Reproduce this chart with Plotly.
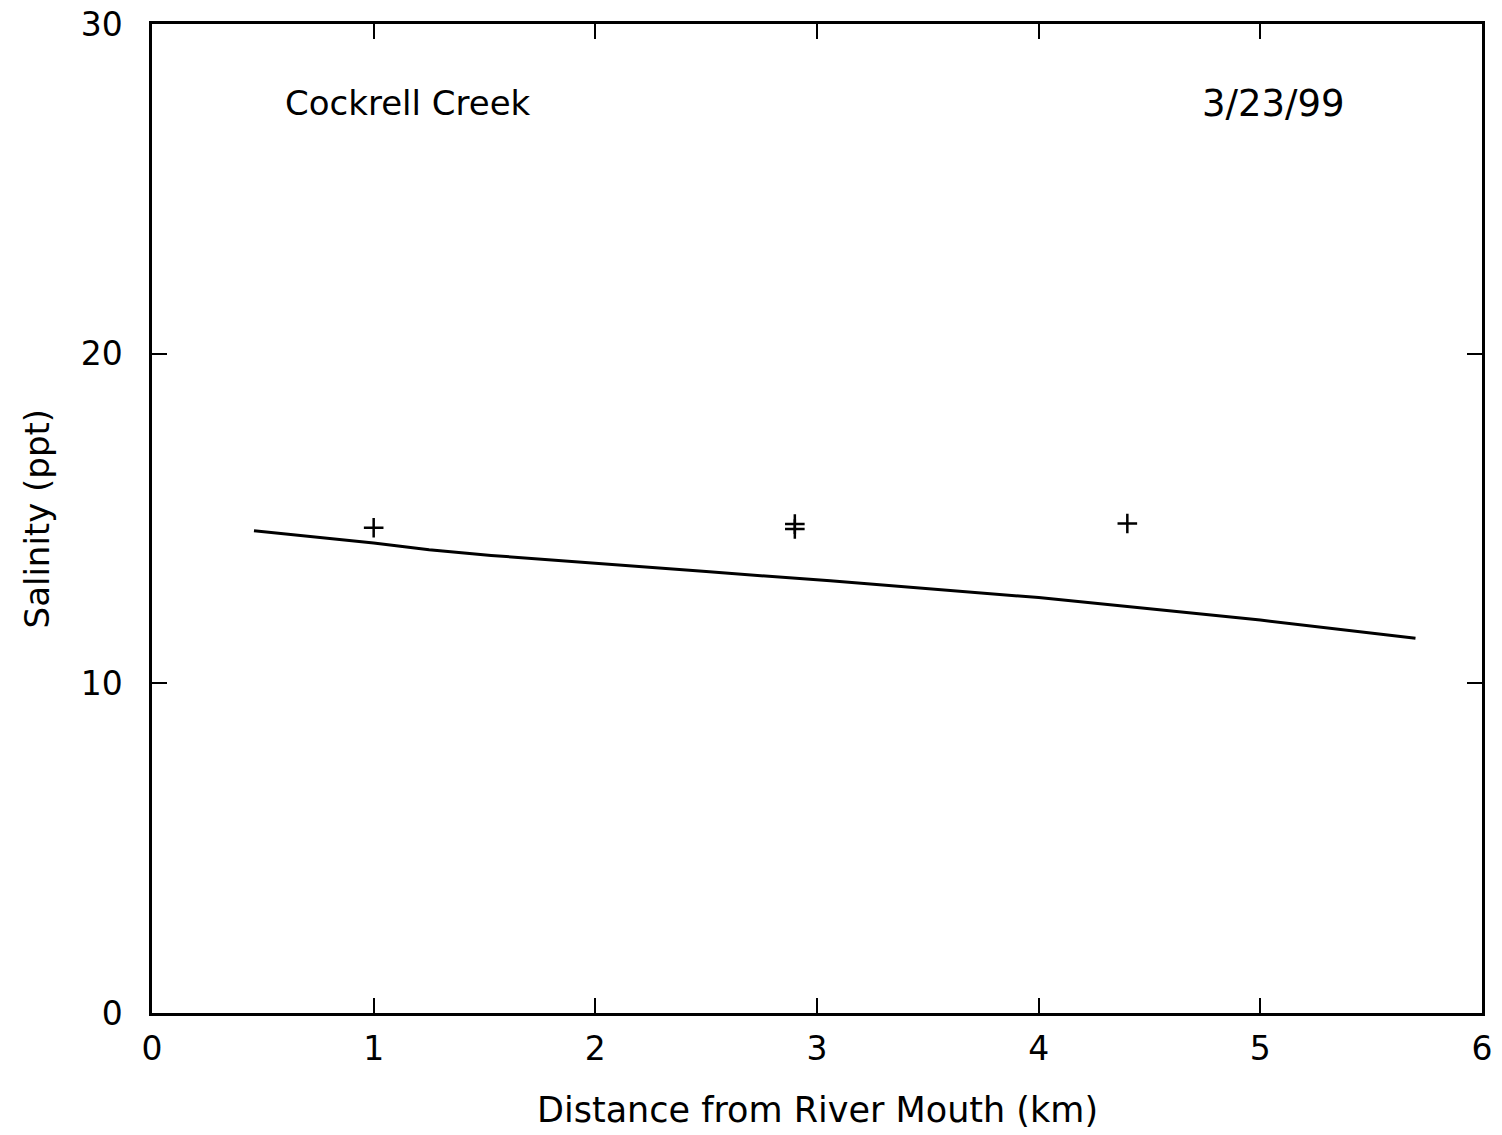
import plotly.graph_objects as go

# Measured salinity at stations along the creek
station_km = [1.0, 2.9, 2.9, 4.4]
station_salinity = [14.72, 14.83, 14.68, 14.85]

# Model salinity profile
model_km = [0.46, 1.0, 1.25, 1.53, 2.5, 3.06, 4.0, 4.59, 5.0, 5.7]
model_salinity = [14.63, 14.26, 14.05, 13.88, 13.39, 13.11, 12.60, 12.19, 11.92, 11.37]

x_ticks = [0, 1, 2, 3, 4, 5, 6]
y_ticks = [0, 10, 20, 30]

FONT = "DejaVu Sans"

fig = go.Figure()
fig.add_trace(go.Scatter(
    x=model_km, y=model_salinity, mode="lines",
    line=dict(color="black", width=3), showlegend=False,
))
fig.add_trace(go.Scatter(
    x=station_km, y=station_salinity, mode="markers",
    marker=dict(symbol="cross-thin-open", size=14, color="black",
                line=dict(color="black", width=2.5)),
    showlegend=False,
))

axis_common = dict(
    showgrid=False, zeroline=False, showline=True, linecolor="black",
    linewidth=2.5, mirror="ticks", ticks="inside", ticklen=15,
    tickwidth=2, tickcolor="black", automargin=False,
    tickfont=dict(family=FONT, size=33, color="black"),
)
fig.update_xaxes(range=[0, 6], tickvals=x_ticks, ticktext=[str(v) for v in x_ticks],
                 ticklabelstandoff=5, **axis_common)
fig.update_yaxes(range=[0, 30], tickvals=y_ticks, ticktext=[str(v) for v in y_ticks],
                 ticklabelstandoff=20, **axis_common)

fig.add_annotation(text="Cockrell Creek", x=0.59, y=27.6, xref="x", yref="y",
                   xanchor="left", yanchor="middle", showarrow=False,
                   font=dict(family=FONT, size=34, color="black"))
fig.add_annotation(text="3/23/99", x=5.39, y=27.6, xref="x", yref="y",
                   xanchor="right", yanchor="middle", showarrow=False,
                   font=dict(family=FONT, size=37, color="black"))
fig.add_annotation(text="Distance from River Mouth (km)", x=0.5, y=-0.098,
                   xref="paper", yref="paper", xanchor="center", yanchor="middle",
                   showarrow=False, font=dict(family=FONT, size=35, color="black"))
fig.add_annotation(text="Salinity (ppt)", x=-0.0865, y=0.5, textangle=-90,
                   xref="paper", yref="paper", xanchor="center", yanchor="middle",
                   showarrow=False, font=dict(family=FONT, size=34, color="black"))

fig.update_layout(
    width=1502, height=1135,
    margin=dict(l=152, r=20, t=24, b=122),
    paper_bgcolor="white", plot_bgcolor="white",
)

fig.write_html("out.html")
